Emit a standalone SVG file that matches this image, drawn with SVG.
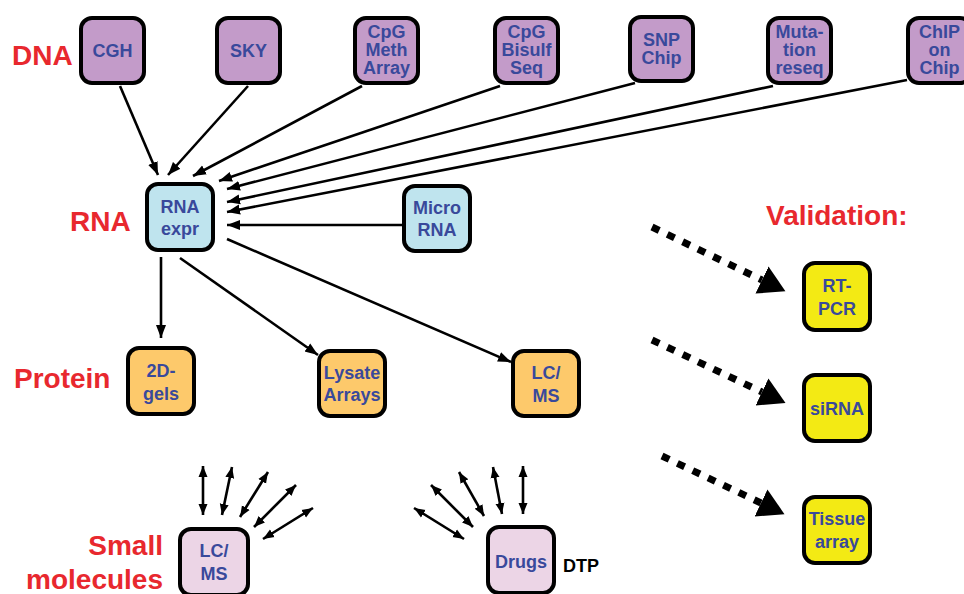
<svg xmlns="http://www.w3.org/2000/svg" width="964" height="594" viewBox="0 0 964 594">
<style>
.box{stroke:#000;stroke-width:4}
.dna{fill:#c39bc9}.rna{fill:#bfe4ee}.pro{fill:#fdc96b}.val{fill:#f3ea14}.sm{fill:#ecd5e6}
.t{font-family:"Liberation Sans",Arial,sans-serif;font-weight:bold;font-size:18px;fill:#39499b;text-anchor:middle}
.lab{font-family:"Liberation Sans",Arial,sans-serif;font-weight:bold;font-size:28px;fill:#e8282e}
.dtp{font-family:"Liberation Sans",Arial,sans-serif;font-weight:bold;font-size:18px;fill:#000}
.c{stroke:#000;stroke-width:2.6;fill:none}
.d{stroke:#000;stroke-width:2.6;fill:none}
.dot{stroke:#000;stroke-width:7;fill:none;stroke-dasharray:8 9}
</style>
<defs>
<marker id="ah" viewBox="0 -6 14 12" refX="13" refY="0" markerWidth="14" markerHeight="12" markerUnits="userSpaceOnUse" orient="auto"><path d="M0,-5 L13,0 L0,5 z"/></marker>
<marker id="dh" viewBox="0 -6 12 12" refX="11" refY="0" markerWidth="12" markerHeight="12" markerUnits="userSpaceOnUse" orient="auto-start-reverse"><path d="M0,-4.5 L11,0 L0,4.5 z"/></marker>
<marker id="bh" viewBox="0 -16 28 32" refX="0" refY="0" markerWidth="28" markerHeight="32" markerUnits="userSpaceOnUse" orient="auto"><path d="M0,-15 L26,0 L0,15 z"/></marker>
</defs>
<rect width="964" height="594" fill="#fff"/>
<g id="labels">
<text class="lab" x="12" y="65">DNA</text>
<text class="lab" x="70" y="231">RNA</text>
<text class="lab" x="14" y="388">Protein</text>
<text class="lab" x="766" y="225">Validation:</text>
<text class="lab" x="163" y="555" text-anchor="end">Small</text>
<text class="lab" x="163" y="589" text-anchor="end">molecules</text>
</g>
<g id="connectors">
<line class="c" x1="120" y1="86" x2="158" y2="175" marker-end="url(#ah)"/>
<line class="c" x1="248" y1="86" x2="168" y2="175" marker-end="url(#ah)"/>
<line class="c" x1="362" y1="86" x2="193" y2="176" marker-end="url(#ah)"/>
<line class="c" x1="500" y1="86" x2="219" y2="181" marker-end="url(#ah)"/>
<line class="c" x1="635" y1="83" x2="227" y2="189" marker-end="url(#ah)"/>
<line class="c" x1="773" y1="86" x2="227" y2="202" marker-end="url(#ah)"/>
<line class="c" x1="907" y1="80" x2="227" y2="212" marker-end="url(#ah)"/>
<line class="c" x1="402" y1="225" x2="227" y2="225" marker-end="url(#ah)"/>
<line class="c" x1="161" y1="257" x2="161" y2="338" marker-end="url(#ah)"/>
<line class="c" x1="180" y1="258" x2="318" y2="355" marker-end="url(#ah)"/>
<line class="c" x1="227" y1="239" x2="511" y2="362" marker-end="url(#ah)"/>
<line class="d" x1="203" y1="466" x2="203" y2="515" marker-start="url(#dh)" marker-end="url(#dh)"/>
<line class="d" x1="232" y1="467" x2="222" y2="515" marker-start="url(#dh)" marker-end="url(#dh)"/>
<line class="d" x1="268" y1="472" x2="240" y2="517" marker-start="url(#dh)" marker-end="url(#dh)"/>
<line class="d" x1="296" y1="485" x2="254" y2="527" marker-start="url(#dh)" marker-end="url(#dh)"/>
<line class="d" x1="313" y1="508" x2="263" y2="539" marker-start="url(#dh)" marker-end="url(#dh)"/>
<line class="d" x1="414" y1="508" x2="464" y2="539" marker-start="url(#dh)" marker-end="url(#dh)"/>
<line class="d" x1="431" y1="485" x2="473" y2="527" marker-start="url(#dh)" marker-end="url(#dh)"/>
<line class="d" x1="459" y1="472" x2="484" y2="516" marker-start="url(#dh)" marker-end="url(#dh)"/>
<line class="d" x1="493" y1="467" x2="502" y2="514" marker-start="url(#dh)" marker-end="url(#dh)"/>
<line class="d" x1="523" y1="466" x2="523" y2="514" marker-start="url(#dh)" marker-end="url(#dh)"/>
<line class="dot" x1="652" y1="227" x2="762" y2="280" marker-end="url(#bh)"/>
<line class="dot" x1="652" y1="340" x2="762" y2="392" marker-end="url(#bh)"/>
<line class="dot" x1="662" y1="456" x2="761" y2="503" marker-end="url(#bh)"/>
</g>
<g id="n-cgh"><rect class="box dna" x="81" y="18" width="63" height="65" rx="11"/><text class="t" x="112.5" y="57">CGH</text></g>
<g id="n-sky"><rect class="box dna" x="217" y="18" width="63" height="65" rx="11"/><text class="t" x="248.5" y="57">SKY</text></g>
<g id="n-cpgmeth"><rect class="box dna" x="355" y="18" width="63" height="65" rx="11"/><text class="t" x="386.5" y="38">CpG</text><text class="t" x="386.5" y="56">Meth</text><text class="t" x="386.5" y="74">Array</text></g>
<g id="n-cpgbis"><rect class="box dna" x="495" y="18" width="63" height="65" rx="11"/><text class="t" x="526.5" y="38">CpG</text><text class="t" x="526.5" y="56">Bisulf</text><text class="t" x="526.5" y="74">Seq</text></g>
<g id="n-snp"><rect class="box dna" x="630" y="17" width="63" height="64" rx="11"/><text class="t" x="661.5" y="46">SNP</text><text class="t" x="661.5" y="64">Chip</text></g>
<g id="n-mut"><rect class="box dna" x="768" y="18" width="63" height="65" rx="11"/><text class="t" x="799.5" y="38">Muta-</text><text class="t" x="799.5" y="56">tion</text><text class="t" x="799.5" y="74">reseq</text></g>
<g id="n-chip"><rect class="box dna" x="908" y="18" width="63" height="65" rx="11"/><text class="t" x="939.5" y="38">ChIP</text><text class="t" x="939.5" y="56">on</text><text class="t" x="939.5" y="74">Chip</text></g>
<g id="n-rnaexpr"><rect class="box rna" x="147" y="184" width="66" height="66" rx="11"/><text class="t" x="180" y="213">RNA</text><text class="t" x="180" y="235">expr</text></g>
<g id="n-micro"><rect class="box rna" x="404" y="186" width="66" height="65" rx="11"/><text class="t" x="437" y="214">Micro</text><text class="t" x="437" y="236">RNA</text></g>
<g id="n-2d"><rect class="box pro" x="128" y="348" width="66" height="66" rx="11"/><text class="t" x="161" y="377">2D-</text><text class="t" x="161" y="400">gels</text></g>
<g id="n-lysate"><rect class="box pro" x="319" y="351" width="66" height="65" rx="11"/><text class="t" x="352" y="379">Lysate</text><text class="t" x="352" y="401">Arrays</text></g>
<g id="n-lcms1"><rect class="box pro" x="513" y="351" width="66" height="65" rx="11"/><text class="t" x="546" y="379">LC/</text><text class="t" x="546" y="402">MS</text></g>
<g id="n-rtpcr"><rect class="box val" x="804" y="263" width="66" height="67" rx="11"/><text class="t" x="837" y="292">RT-</text><text class="t" x="837" y="315">PCR</text></g>
<g id="n-sirna"><rect class="box val" x="804" y="375" width="66" height="66" rx="11"/><text class="t" x="837" y="415">siRNA</text></g>
<g id="n-tissue"><rect class="box val" x="804" y="497" width="66" height="66" rx="11"/><text class="t" x="837" y="525">Tissue</text><text class="t" x="837" y="548">array</text></g>
<g id="n-lcms2"><rect class="box sm" x="180" y="529" width="68" height="66" rx="11"/><text class="t" x="214" y="557">LC/</text><text class="t" x="214" y="580">MS</text></g>
<g id="n-drugs"><rect class="box sm" x="488" y="527" width="66" height="66" rx="11"/><text class="t" x="521" y="568">Drugs</text><text class="dtp" x="563" y="572">DTP</text></g>
</svg>
